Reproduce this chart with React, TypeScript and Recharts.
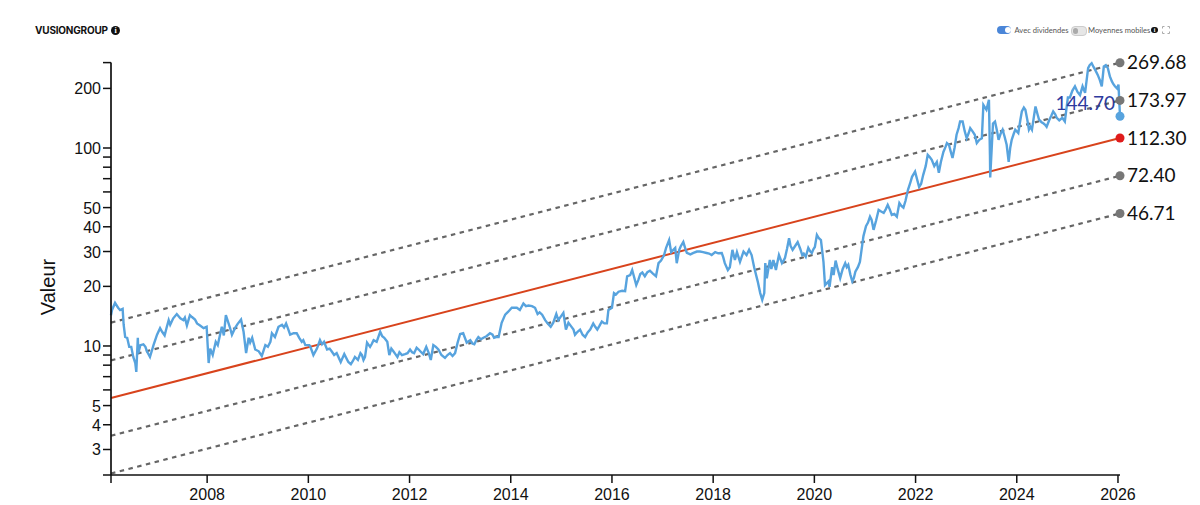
import React from "react";
import { ComposedChart, Line, XAxis, YAxis } from "recharts";

// [decimal year, value]
const price2006to2009: number[][] = [
  [2006.1,14.3],[2006.12,15.2],[2006.18,16.5],[2006.24,15.6],[2006.28,15.2],[2006.33,15.4],[2006.35,12.8],[2006.38,11.1],[2006.42,11],[2006.46,9.9],[2006.5,9.9],[2006.54,8.8],[2006.58,8.2],[2006.6,7.4],[2006.63,11],[2006.64,9.2],[2006.68,10.1],[2006.74,10.2],[2006.78,9.9],[2006.81,9.4],[2006.87,8.8],[2006.94,10.1],
  [2007.01,11.4],[2007.07,12.3],[2007.11,11.8],[2007.16,11.3],[2007.2,12.4],[2007.24,13.5],[2007.27,12.8],[2007.3,13.3],[2007.33,13.8],[2007.4,14.5],[2007.44,14.1],[2007.47,13.8],[2007.53,13.5],[2007.56,13.9],[2007.6,12.7],[2007.66,14.3],[2007.7,14],[2007.76,13.6],[2007.8,13],[2007.86,12.7],[2007.93,12.3],[2007.99,12.5],
  [2008.03,8.2],[2008.06,9.7],[2008.11,9],[2008.17,10.5],[2008.21,10.1],[2008.29,12.5],[2008.33,11.3],[2008.37,14.3],[2008.42,13.1],[2008.45,12.4],[2008.49,11.4],[2008.55,12.3],[2008.6,12.9],[2008.67,13.6],[2008.72,11.8],[2008.77,9.2],[2008.82,11],[2008.85,10.4],[2008.89,11],[2008.95,9.6],
  [2009.02,9.4],[2009.08,8.9],[2009.11,9.4],[2009.15,10.1],[2009.2,9.9],[2009.25,10.5],[2009.28,11.6],[2009.34,11.1],[2009.41,12.5],[2009.48,12.8],[2009.52,12.4],[2009.56,13],[2009.6,12.2],[2009.64,11.4],[2009.71,11.6],[2009.77,11.6],[2009.82,11],[2009.87,10.5],[2009.9,10.7],[2009.94,10.1],
];
const price2010to2013: number[][] = [
  [2010.02,10.1],[2010.04,9.9],[2010.1,9],[2010.17,9.7],[2010.23,10.7],[2010.27,10.2],[2010.31,10.5],[2010.37,9.6],[2010.42,9.7],[2010.46,9.4],[2010.51,9],[2010.56,9.2],[2010.64,8.3],[2010.71,9.1],[2010.79,8.3],[2010.84,8.1],[2010.88,8.4],[2010.92,8.8],[2010.98,8.5],
  [2011.03,9.2],[2011.06,9],[2011.09,8.5],[2011.12,8.8],[2011.16,10.4],[2011.22,9.9],[2011.25,10.2],[2011.29,10.7],[2011.35,10.5],[2011.42,11.8],[2011.46,11.2],[2011.5,11],[2011.56,10.5],[2011.6,9],[2011.64,9.7],[2011.68,9.4],[2011.72,9.1],[2011.76,8.8],[2011.8,9.3],[2011.85,9],[2011.91,9.1],[2011.96,9.2],
  [2012.01,9.6],[2012.05,9.3],[2012.09,9.2],[2012.14,9.8],[2012.18,9.6],[2012.23,9.3],[2012.27,9.1],[2012.33,9.9],[2012.38,9.2],[2012.42,8.5],[2012.47,10.1],[2012.52,9.9],[2012.57,9.6],[2012.63,9],[2012.7,8.7],[2012.75,9],[2012.8,9.2],[2012.85,8.9],[2012.9,9.2],[2012.95,10.4],
  [2013,11.5],[2013.06,11.6],[2013.13,10.4],[2013.2,10.7],[2013.24,10.3],[2013.28,10.2],[2013.32,10.7],[2013.36,11.1],[2013.41,10.8],[2013.46,11],[2013.52,11.2],[2013.59,11.6],[2013.64,11.4],[2013.67,11],[2013.71,11.1],[2013.76,11.1],[2013.82,13.1],[2013.89,14.4],[2013.95,14.9],
];
const price2014to2017: number[][] = [
  [2014.02,15.6],[2014.12,15.6],[2014.18,15.2],[2014.25,16.4],[2014.3,15.9],[2014.35,16],[2014.42,15.9],[2014.48,15.6],[2014.53,14.5],[2014.57,14.8],[2014.62,14.4],[2014.68,13.5],[2014.73,13],[2014.79,12.5],[2014.84,13.1],[2014.9,14.5],[2014.94,13.5],
  [2015.04,14.7],[2015.09,12.1],[2015.14,13.1],[2015.19,12.6],[2015.24,12.1],[2015.27,11.4],[2015.32,11.8],[2015.37,12.1],[2015.42,11.4],[2015.47,11.1],[2015.52,11.7],[2015.57,12.1],[2015.63,13],[2015.67,12.5],[2015.71,12.1],[2015.75,12.6],[2015.8,13.3],[2015.85,13],[2015.9,13],[2015.93,15.2],
  [2016,15.6],[2016.04,18.5],[2016.08,18.2],[2016.13,18.8],[2016.2,19],[2016.26,18.9],[2016.3,22.5],[2016.36,22.8],[2016.4,24.2],[2016.48,20.3],[2016.52,21.5],[2016.56,23.1],[2016.6,23.5],[2016.65,22.5],[2016.7,23.6],[2016.75,24],[2016.81,23.2],[2016.87,22.5],[2016.92,26.2],[2016.97,27],
  [2017.03,28.8],[2017.07,31.3],[2017.13,34.3],[2017.17,29.8],[2017.25,31.3],[2017.28,26.2],[2017.33,30.6],[2017.36,31.9],[2017.41,33.5],[2017.45,31],[2017.48,29.5],[2017.55,29],[2017.61,29.5],[2017.68,30],[2017.74,30],[2017.8,29.8],[2017.87,29.5],[2017.92,29.3],[2017.97,28.8],
];
const price2018to2021: number[][] = [
  [2018.04,29.8],[2018.1,29.4],[2018.17,29.5],[2018.2,28],[2018.23,26.2],[2018.29,24.2],[2018.33,25],[2018.38,30.6],[2018.43,27.2],[2018.47,29.8],[2018.53,26.6],[2018.6,30],[2018.66,28.8],[2018.71,30.6],[2018.76,28.8],[2018.81,25],[2018.88,21.2],[2018.93,18.5],[2018.97,17.1],
  [2019.01,18.5],[2019.03,26.2],[2019.06,22],[2019.12,27.2],[2019.15,24.5],[2019.19,27.2],[2019.21,26],[2019.24,24.2],[2019.27,26.5],[2019.3,28.8],[2019.33,27.5],[2019.36,26.2],[2019.39,26.9],[2019.42,27.9],[2019.46,31],[2019.5,35],[2019.53,32],[2019.57,30.6],[2019.62,32],[2019.67,33.5],[2019.72,31],[2019.76,28.8],[2019.79,29.3],[2019.83,28.2],[2019.88,31.3],[2019.92,30],[2019.95,29.5],[2019.98,30.8],
  [2020.01,31.6],[2020.05,36.4],[2020.09,35],[2020.13,34.3],[2020.18,26.6],[2020.21,20.3],[2020.28,21.2],[2020.3,19.9],[2020.35,25],[2020.38,22.8],[2020.42,27],[2020.46,24.5],[2020.51,22],[2020.56,24.5],[2020.61,26.2],[2020.64,25],[2020.67,25.7],[2020.71,23],[2020.75,21.2],[2020.78,22],[2020.81,23.7],[2020.86,25],[2020.9,26.6],[2020.97,35.9],
  [2021.02,40.3],[2021.06,42],[2021.1,45],[2021.13,43.5],[2021.17,38.6],[2021.22,43],[2021.27,48.7],[2021.32,47.8],[2021.37,47],[2021.41,49],[2021.45,51.6],[2021.49,49],[2021.53,45.9],[2021.58,46.5],[2021.63,45],[2021.68,52.7],[2021.72,51],[2021.76,50],[2021.8,54],[2021.85,61.5],[2021.89,66],[2021.93,71.5],[2021.99,76],
];
const price2022to2026: number[][] = [
  [2022.07,63.5],[2022.11,66],[2022.15,73],[2022.2,81],[2022.24,92.4],[2022.28,90],[2022.32,87.2],[2022.37,81],[2022.42,85],[2022.46,75],[2022.5,85],[2022.55,95.5],[2022.59,101],[2022.62,106],[2022.66,103.8],[2022.69,97],[2022.73,89],[2022.77,100],[2022.81,116.7],[2022.85,126],[2022.88,136],[2022.93,136],[2022.97,122],
  [2023.01,112],[2023.05,119],[2023.08,126],[2023.13,121],[2023.17,116.7],[2023.21,106],[2023.26,110],[2023.31,112],[2023.34,165],[2023.4,156],[2023.45,175],[2023.47,92],[2023.475,71],[2023.53,133],[2023.57,136],[2023.61,122],[2023.64,110],[2023.68,118],[2023.72,123.7],[2023.76,114],[2023.8,103.8],[2023.84,85],[2023.87,100],[2023.9,110],[2023.94,118],[2023.97,123.7],
  [2024.03,119],[2024.07,138],[2024.1,153],[2024.14,160],[2024.17,156],[2024.21,138],[2024.24,123.7],[2024.27,128],[2024.3,123.7],[2024.34,145],[2024.37,162],[2024.41,148],[2024.44,139],[2024.49,135],[2024.53,133],[2024.56,131],[2024.59,128],[2024.64,138],[2024.68,145],[2024.72,153],[2024.76,148],[2024.79,142],[2024.84,138],[2024.9,142],[2024.95,136],
  [2025.01,180],[2025.05,180],[2025.1,195],[2025.15,205],[2025.2,192],[2025.25,185],[2025.3,205],[2025.35,190],[2025.41,253],[2025.44,262],[2025.48,268],[2025.52,256],[2025.55,248],[2025.6,234],[2025.64,221],[2025.68,205],[2025.72,258],[2025.76,262],[2025.8,253],[2025.84,230],[2025.88,217],[2025.91,210],[2025.94,205],[2025.98,200],[2026.01,209],[2026.04,144.7],
];

const channelYears = [2006.1, 2026.04];
const upperOuter = [13.12, 269.68];
const upperInner = [8.46, 173.97];
const center = [5.46, 112.3];
const lowerInner = [3.52, 72.4];
const lowerOuter = [2.27, 46.71];

const yTicks = [2.23, 3, 4, 5, 6, 7, 8, 9, 10, 20, 30, 40, 50, 60, 70, 80, 90, 100, 200, 270];
const yLabelled = [3, 4, 5, 10, 20, 30, 40, 50, 100, 200];
const xTicks = [2006.1, 2008, 2010, 2012, 2014, 2016, 2018, 2020, 2022, 2024, 2026];

const priceData = [...price2006to2009, ...price2010to2013, ...price2014to2017, ...price2018to2021, ...price2022to2026]
  .map(([year, price]) => ({ year, price }));
const channelRows = (vals: number[]) => channelYears.map((year, i) => ({ year, v: vals[i] }));

const endMark = (color: string, text: string, textColor = "#111", dx = 7, dy = 6.5, anchor = "start", weight = 400) =>
  (p: any) => {
    if (p.index !== p.points.length - 1) return <g key={p.index} />;
    return (
      <g key={p.index}>
        <circle cx={p.cx} cy={p.cy} r={4.5} fill={color} />
        <text x={p.cx + dx} y={p.cy + dy} textAnchor={anchor} fontFamily="Lato" fontSize={19} fontWeight={weight} fill={textColor}>{text}</text>
      </g>
    );
  };

const Info = ({ x, y, r }: { x: number; y: number; r: number }) => (
  <div style={{ position: "absolute", left: x - r, top: y - r, width: 2 * r, height: 2 * r, borderRadius: r, background: "#111", color: "#fff", fontFamily: "Liberation Serif", fontWeight: 700, fontSize: r * 1.7, lineHeight: `${2 * r}px`, textAlign: "center" }}>i</div>
);

const Pill = ({ x, on }: { x: number; on: boolean }) => (
  <div style={{ position: "absolute", left: x, top: 26, width: 14, height: 7.5, borderRadius: 4, background: on ? "#4a86d8" : "#e6e6e6", border: on ? "none" : "0.5px solid #ccc" }}>
    <div style={{ position: "absolute", left: on ? 8 : 0.5, top: 1, width: 5.5, height: 5.5, borderRadius: 3, background: on ? "#fff" : "#aaa" }} />
  </div>
);

const small = { position: "absolute" as const, top: 25, fontFamily: "Lato", fontSize: 7.6, lineHeight: "11px", color: "#555", whiteSpace: "nowrap" as const };

export default function App() {
  const yTick = (p: any) => {
    const v = p.payload.value;
    return yLabelled.includes(v) ? (
      <text x={p.x} y={p.y + 6} textAnchor="end" fontFamily="Liberation Sans" fontSize={16} fill="#111">{v}</text>
    ) : <g />;
  };
  const xTick = (p: any) => {
    const v = p.payload.value;
    return Number.isInteger(v) ? (
      <text x={p.x} y={p.y + 15} textAnchor="middle" fontFamily="Liberation Sans" fontSize={16} fill="#111">{v}</text>
    ) : <g />;
  };
  const dashed = { stroke: "#666", strokeWidth: 2.2, strokeDasharray: "4.5 4.5", isAnimationActive: false, legendType: "none" as const, dataKey: "v", xAxisId: 0, yAxisId: 0 };
  return (
    <div style={{ position: "absolute", left: 0, top: 0, width: 1200, height: 505, background: "#fff", overflow: "hidden" }}>
      <ComposedChart width={1200} height={505} margin={{ top: 62.6, right: 80, bottom: 0, left: 0 }}>
        <XAxis dataKey="year" type="number" scale="linear" domain={[2006.1, 2026.04]} ticks={xTicks} interval={0} height={30} allowDuplicatedCategory={false}
          tick={xTick} tickSize={8} axisLine={{ stroke: "#111", strokeWidth: 1.7 }} tickLine={{ stroke: "#111", strokeWidth: 1.5 }} />
        <YAxis type="number" scale="log" domain={[2.23, 270]} ticks={yTicks} interval={0} width={111}
          tick={yTick} tickSize={8} axisLine={{ stroke: "#111", strokeWidth: 1.7 }} tickLine={{ stroke: "#111", strokeWidth: 1.5 }} />
        <Line {...dashed} data={channelRows(upperOuter)} dot={endMark("#777", "269.68")} />
        <Line {...dashed} data={channelRows(upperInner)} dot={endMark("#777", "173.97")} />
        <Line {...dashed} data={channelRows(lowerInner)} dot={endMark("#777", "72.40")} />
        <Line {...dashed} data={channelRows(lowerOuter)} dot={endMark("#777", "46.71")} />
        <Line data={channelRows(center)} dataKey="v" stroke="#d8431c" strokeWidth={2} isAnimationActive={false} dot={endMark("#e01b1b", "112.30")} />
        <Line data={priceData} dataKey="price" stroke="#57a3de" strokeWidth={2.4} isAnimationActive={false} dot={endMark("#57a3de", "144.70", "#2e3a9e", -5, -6, "end", 400)} />
      </ComposedChart>
      <div style={{ position: "absolute", left: 48, top: 286.5, transform: "translate(-50%,-50%) rotate(-90deg)", fontFamily: "Liberation Sans", fontSize: 20, lineHeight: "20px", color: "#111" }}>Valeur</div>
      <div style={{ position: "absolute", left: 35, top: 24, fontFamily: "Inter", fontWeight: 700, fontSize: 10, lineHeight: "13px", letterSpacing: -0.2, color: "#111" }}>VUSIONGROUP</div>
      <Info x={115.5} y={30.5} r={4.7} />
      <Pill x={997} on />
      <div style={{ ...small, left: 1014.5 }}>Avec dividendes</div>
      <Pill x={1071} on={false} />
      <div style={{ ...small, left: 1088 }}>Moyennes mobiles</div>
      <Info x={1154.5} y={30} r={3.4} />
      <svg style={{ position: "absolute", left: 1162, top: 26 }} width={8} height={8} fill="none" stroke="#aaa" strokeWidth={1}>
        <path d="M0.5 2.5V0.5H2.5M5.5 0.5H7.5V2.5M7.5 5.5V7.5H5.5M2.5 7.5H0.5V5.5" />
      </svg>
    </div>
  );
}
